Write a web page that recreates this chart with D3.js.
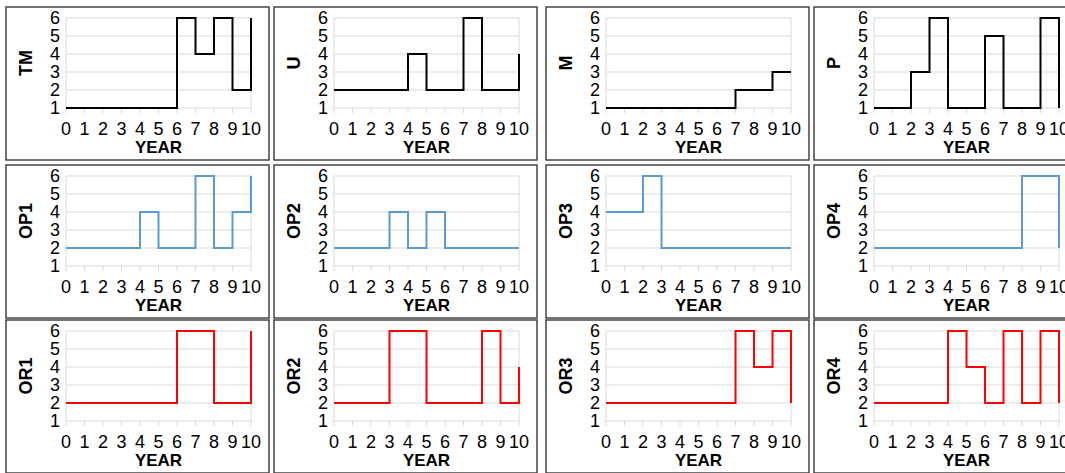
<!DOCTYPE html>
<html>
<head>
<meta charset="utf-8">
<script src="https://cdnjs.cloudflare.com/ajax/libs/d3/7.8.5/d3.min.js"></script>
<style>
  body { margin: 0; background: #fff; }
  svg { display: block; font-family: "Liberation Sans", Arial, sans-serif; }
</style>
</head>
<body>
<div id="chart"></div>
<script>
// year 0..10, value held from each year to the next (last value = end of final vertical)
const years = [0, 1, 2, 3, 4, 5, 6, 7, 8, 9, 10];
const yTicks = [1, 2, 3, 4, 5, 6];

const TM  = [1, 1, 1, 1, 1, 1, 6, 4, 6, 2, 6];
const U   = [2, 2, 2, 2, 4, 2, 2, 6, 2, 2, 4];
const M   = [1, 1, 1, 1, 1, 1, 1, 2, 2, 3, 3];
const P   = [1, 1, 3, 6, 1, 1, 5, 1, 1, 6, 1];
const OP1 = [2, 2, 2, 2, 4, 2, 2, 6, 2, 4, 6];
const OP2 = [2, 2, 2, 4, 2, 4, 2, 2, 2, 2, 2];
const OP3 = [4, 4, 6, 2, 2, 2, 2, 2, 2, 2, 2];
const OP4 = [2, 2, 2, 2, 2, 2, 2, 2, 6, 6, 2];
const OR1 = [2, 2, 2, 2, 2, 2, 6, 6, 2, 2, 6];
const OR2 = [2, 2, 2, 6, 6, 2, 2, 2, 6, 2, 4];
const OR3 = [2, 2, 2, 2, 2, 2, 2, 6, 4, 6, 2];
const OR4 = [2, 2, 2, 2, 6, 4, 2, 6, 2, 6, 2];

const panels = [
    {name: "TM", values: TM, color: "#000000"},
    {name: "U", values: U, color: "#000000"},
    {name: "M", values: M, color: "#000000"},
    {name: "P", values: P, color: "#000000"},
    {name: "OP1", values: OP1, color: "#5b9bd5"},
    {name: "OP2", values: OP2, color: "#5b9bd5"},
    {name: "OP3", values: OP3, color: "#5b9bd5"},
    {name: "OP4", values: OP4, color: "#5b9bd5"},
    {name: "OR1", values: OR1, color: "#ff0000"},
    {name: "OR2", values: OR2, color: "#ff0000"},
    {name: "OR3", values: OR3, color: "#ff0000"},
    {name: "OR4", values: OR4, color: "#ff0000"}
];

const width = 1065, height = 473;
const colX = [6, 274, 546, 814];
const rowY = [7, 165, 320];
const boxW = 263, boxH = 153;
const m = {left: 60, right: 18, top: 11, bottom: 52};

const svg = d3.select("#chart").append("svg")
    .attr("width", width)
    .attr("height", height);

let x = d3.scaleLinear().domain([0, 10]).range([m.left, boxW - m.right]);
let y = d3.scaleLinear().domain([1, 6]).range([m.top + 90, m.top]);

let line = d3.line()
    .x(function (d, i) { return x(years[i]); })
    .y(function (d) { return y(d); })
    .curve(d3.curveStepAfter);

panels.forEach(function (p, k) {
    let g = svg.append("g")
        .attr("transform", "translate(" + colX[k % 4] + "," + rowY[Math.floor(k / 4)] + ")");

    // box round each small chart
    g.append("rect")
        .attr("x", 0).attr("y", 0)
        .attr("width", boxW).attr("height", boxH)
        .attr("fill", "none")
        .attr("stroke", "#444")
        .attr("stroke-width", 1.5);

    // horizontal gridlines
    g.selectAll(".grid").data(yTicks).enter().append("line")
        .attr("x1", x(0)).attr("x2", x(10))
        .attr("y1", function (d) { return y(d); })
        .attr("y2", function (d) { return y(d); })
        .attr("stroke", "#d9d9d9")
        .attr("stroke-width", 1);

    // left and right frame lines
    [0, 10].forEach(function (v) {
        g.append("line")
            .attr("x1", x(v)).attr("x2", x(v))
            .attr("y1", y(1)).attr("y2", y(6))
            .attr("stroke", "#d9d9d9");
    });

    // x tick marks below the axis
    g.selectAll(".xtick").data(years).enter().append("line")
        .attr("x1", function (d) { return x(d); })
        .attr("x2", function (d) { return x(d); })
        .attr("y1", y(1)).attr("y2", y(1) + 5)
        .attr("stroke", "#d9d9d9");

    // y tick labels
    g.selectAll(".ylab").data(yTicks).enter().append("text")
        .attr("x", x(0) - 6)
        .attr("y", function (d) { return y(d); })
        .attr("dy", "0.36em")
        .attr("text-anchor", "end")
        .attr("font-size", 18)
        .attr("fill", "#000")
        .text(function (d) { return d; });

    // x tick labels
    g.selectAll(".xlab").data(years).enter().append("text")
        .attr("x", function (d) { return x(d); })
        .attr("y", y(1) + 27)
        .attr("text-anchor", "middle")
        .attr("font-size", 18)
        .attr("fill", "#000")
        .text(function (d) { return d; });

    // axis titles
    g.append("text")
        .attr("x", (x(0) + x(10)) / 2)
        .attr("y", y(1) + 45)
        .attr("text-anchor", "middle")
        .attr("font-size", 17)
        .attr("font-weight", "bold")
        .text("YEAR");

    g.append("text")
        .attr("transform", "translate(26," + (y(1) + y(6)) / 2 + ") rotate(-90)")
        .attr("text-anchor", "middle")
        .attr("font-size", 18)
        .attr("font-weight", "bold")
        .text(p.name);

    // step line
    g.append("path")
        .datum(p.values)
        .attr("d", line)
        .attr("fill", "none")
        .attr("stroke", p.color)
        .attr("stroke-width", 2);
});
</script>
</body>
</html>
